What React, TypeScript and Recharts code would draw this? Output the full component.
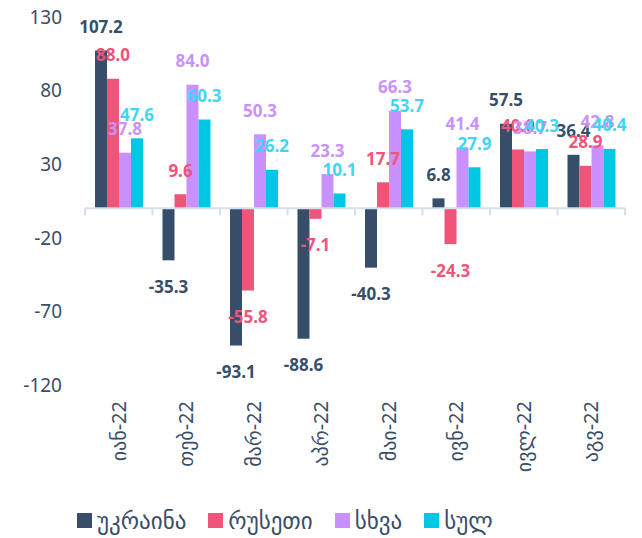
import { BarChart, Bar, XAxis, YAxis, ReferenceLine, Legend, LabelList } from 'recharts';

const months = ['იან-22', 'თებ-22', 'მარ-22', 'აპრ-22', 'მაი-22', 'ივნ-22', 'ივლ-22', 'აგვ-22'];
const ukraine = [107.2, -35.3, -93.1, -88.6, -40.3, 6.8, 57.5, 36.4];
const russia = [88.0, 9.6, -55.8, -7.1, 17.7, -24.3, 40.0, 28.9];
const other = [37.8, 84.0, 50.3, 23.3, 66.3, 41.4, 38.7, 42.8];
const total = [47.6, 60.3, 26.2, 10.1, 53.7, 27.9, 40.3, 40.4];
const yTicks = [130, 80, 30, -20, -70, -120];

const series = [
    { key: 'ukraine', name: 'უკრაინა', color: '#374e6b', labelColor: '#374e6b' },
    { key: 'russia', name: 'რუსეთი', color: '#f05478', labelColor: '#f05478' },
    { key: 'other', name: 'სხვა', color: '#c891fd', labelColor: '#c891fd' },
    { key: 'total', name: 'სულ', color: '#00c8e4', labelColor: '#3fd6f4' },
];

const data = months.map((month, i) => ({
    month,
    ukraine: ukraine[i],
    russia: russia[i],
    other: other[i],
    total: total[i],
}));

const textColor = '#3a4d66';
const axisColor = '#d6dfea';
const font = '"Noto Sans", "DejaVu Sans", sans-serif';

const makeLabel = (color: string) => (props: any) => {
    const { x, y, width, height, value } = props;
    const top = Math.min(y, y + height);
    const bottom = Math.max(y, y + height);
    const cx = x + width / 2;
    const ly = value >= 0 ? top - 24 : bottom + 26;
    return (
        <text
            x={cx}
            y={ly}
            textAnchor="middle"
            dominantBaseline="central"
            fill={color}
            fontSize={17}
            fontWeight={700}
            fontFamily={font}
        >
            {Number(value).toFixed(1)}
        </text>
    );
};

// plot is 368px tall, zero sits 130/250 of the way down
const plotHeight = 368;
const zeroFromBottom = plotHeight * (120 / 250);

const XTick = (props: any) => {
    const { x, y, payload, index } = props;
    const half = payload?.offset ?? 33.75;
    const zy = -zeroFromBottom;
    return (
        <g transform={`translate(${x},${y})`}>
            <line x1={-half} y1={zy} x2={-half} y2={zy + 7} stroke={axisColor} strokeWidth={2} />
            {index === months.length - 1 && (
                <line x1={half} y1={zy} x2={half} y2={zy + 7} stroke={axisColor} strokeWidth={2} />
            )}
            <text
                transform="rotate(-90)"
                x={-16}
                y={0}
                dy={7}
                textAnchor="end"
                fill={textColor}
                fontSize={20}
                fontFamily={font}
            >
                {payload.value}
            </text>
        </g>
    );
};

const LegendContent = () => (
    <div style={{ display: 'flex', alignItems: 'center', fontFamily: font, fontSize: 23, color: textColor }}>
        {series.map((s) => (
            <div key={s.key} style={{ display: 'flex', alignItems: 'center', marginRight: 22 }}>
                <span style={{ width: 15, height: 15, background: s.color, display: 'inline-block', marginRight: 5 }} />
                <span>{s.name}</span>
            </div>
        ))}
    </div>
);

export default function App() {
    return (
        <BarChart
            width={626}
            height={530}
            data={data}
            margin={{ top: 9, right: 9, left: 0, bottom: 0 }}
            barCategoryGap={10}
            barGap={0}
        >
            <XAxis
                dataKey="month"
                height={117}
                axisLine={false}
                tickLine={false}
                tickSize={0}
                tickMargin={0}
                interval={0}
                tick={<XTick />}
            />
            <YAxis
                width={77}
                domain={[-120, 130]}
                ticks={yTicks}
                interval={0}
                axisLine={false}
                tickLine={false}
                tickSize={6}
                tickMargin={17}
                tick={{ fill: textColor, fontSize: 19, fontFamily: font }}
            />
            <ReferenceLine y={0} stroke={axisColor} strokeWidth={2} />
            {series.map((s) => (
                <Bar key={s.key} dataKey={s.key} name={s.name} fill={s.color} isAnimationActive={false}>
                    <LabelList dataKey={s.key} content={makeLabel(s.labelColor)} />
                </Bar>
            ))}
            <Legend
                verticalAlign="bottom"
                content={<LegendContent />}
                wrapperStyle={{ height: 36, left: 69, width: 560, display: 'flex', alignItems: 'center' }}
            />
        </BarChart>
    );
}
